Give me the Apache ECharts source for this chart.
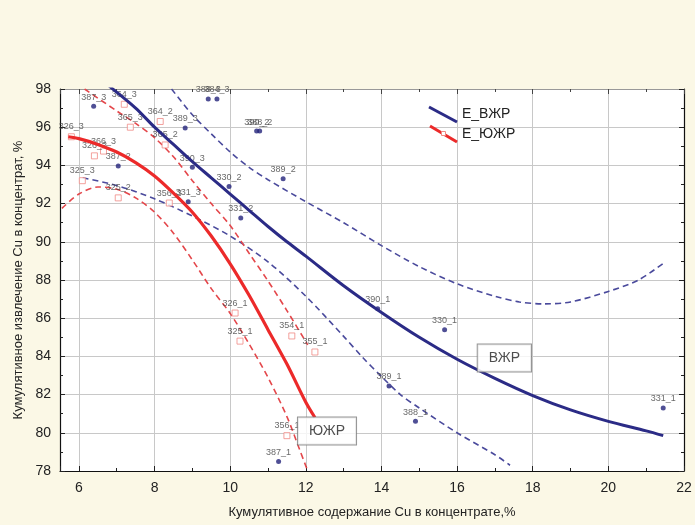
<!DOCTYPE html>
<html><head><meta charset="utf-8">
<script src="https://cdn.jsdelivr.net/npm/echarts@6/dist/echarts.min.js"></script>
<style>html,body{margin:0;padding:0;background:#fbf8e6;}#c{width:695px;height:525px;}</style>
</head><body><div id="c"></div>
<script>
// ---- tick labels ----
const xTickLabels = [6, 8, 10, 12, 14, 16, 18, 20, 22];
const yTickLabels = [78, 80, 82, 84, 86, 88, 90, 92, 94, 96, 98];

// ---- ВЖР sample points (blue dots) ----
const vzhrNames = ['387_3','388_3','384_3','389_3','390_2','388_2','390_3','387_2','330_2','389_2','331_3','331_2','390_1','330_1','389_1','388_1','331_1','387_1'];
const vzhrX =     [6.39,   9.42,   9.65,   8.81,   10.70,  10.78,  9.00,   7.04,   9.97,   11.40,  8.89,   10.28,  13.90,  15.67,  14.20,  14.90,  21.45,  11.28];
const vzhrY =     [97.10,  97.48,  97.48,  95.96,  95.80,  95.80,  93.90,  93.97,  92.90,  93.30,  92.10,  91.25,  86.50,  85.40,  82.45,  80.60,  81.30,  78.50];

// ---- ЮЖР sample points (red squares) ----
const yuzhrNames = ['364_3','364_2','365_3','365_2','326_3','366_3','326_2','325_3','325_2','356_3','326_1','325_1','354_1','355_1','356_1'];
const yuzhrX =     [7.20,   8.15,   7.36,   8.28,   5.80,   6.65,   6.41,   6.09,   7.04,   8.39,   10.13,  10.26,  11.63,  12.24,  11.50];
const yuzhrY =     [97.20,  96.30,  96.00,  95.07,  95.50,  94.75,  94.50,  93.20,  92.30,  92.03,  86.27,  84.80,  85.07,  84.23,  79.85];

// ---- E_ВЖР fitted curve and its band ----
const vzhrFitX = [6.8, 7.5, 8, 8.5, 9, 9.5, 10, 10.5, 11, 11.5, 12, 13, 14, 15, 16, 17, 18, 19, 20, 21, 21.45];
const vzhrFitY = [98.15, 97.0, 96.0, 95.1, 94.2, 93.35, 92.5, 91.65, 90.8, 90.0, 89.25, 87.7, 86.3, 85.0, 83.85, 82.85, 81.95, 81.2, 80.6, 80.1, 79.85];
const vzhrUpX = [8.45, 9, 9.5, 10, 10.5, 11, 12, 13, 14, 15, 16, 17, 17.65, 18.3, 19, 20, 20.8, 21.47];
const vzhrUpY = [98.0, 96.65, 95.65, 94.7, 93.9, 93.25, 92.1, 91.0, 89.8, 88.7, 87.8, 87.15, 86.85, 86.75, 86.85, 87.4, 88.0, 88.9];
const vzhrLoX = [6.1, 7, 8, 9, 10, 11, 12, 13, 13.5, 14, 14.5, 15, 16, 17, 17.4];
const vzhrLoY = [93.35, 92.95, 92.25, 91.35, 90.3, 88.95, 87.15, 85.05, 83.95, 82.95, 82.0, 81.3, 80.0, 78.85, 78.3];

// ---- E_ЮЖР fitted curve and its band ----
const yuzhrFitX = [5.72, 6, 6.5, 7, 7.5, 8, 8.5, 9, 9.5, 10, 10.5, 11, 11.5, 12, 12.24];
const yuzhrFitY = [95.5, 95.4, 95.1, 94.7, 94.15, 93.45, 92.55, 91.55, 90.3, 88.85, 87.2, 85.4, 83.6, 81.6, 80.8];
const yuzhrUpX = [6.15, 7, 7.5, 8, 8.5, 9, 9.5, 10, 10.5, 11, 11.5, 12.05];
const yuzhrUpY = [98.0, 96.85, 96.2, 95.45, 94.45, 93.2, 92.0, 90.85, 89.4, 87.95, 86.4, 84.6];
const yuzhrLoX = [5.55, 6, 6.5, 7, 7.5, 8, 8.5, 9, 9.5, 10, 10.5, 11, 11.5, 11.84, 12.05];
const yuzhrLoY = [91.75, 92.5, 92.87, 92.75, 92.3, 91.55, 90.45, 89.05, 87.55, 86.25, 84.65, 82.9, 80.85, 79.1, 78.0];

// ---- annotation boxes ----
const boxNames = ['ВЖР', 'ЮЖР'];
const boxX = [17.25, 12.56];
const boxY = [83.92, 80.1];

const pts = (xs, ys) => xs.map((x, i) => [x, ys[i]]);
const named = (xs, ys, ns) => xs.map((x, i) => ({ value: [x, ys[i]], name: ns[i] }));

const FONT = 'Liberation Sans';
const BLUE = '#2b2b86', BLUE_D = '#4a4a9c', RED = '#ec2a2a', RED_D = '#e4474b', RED_SQ = '#f08a84';

const chart = echarts.init(document.getElementById('c'));
const dashLine = (data, color) => ({
  type: 'line', data, smooth: 0.3, showSymbol: false, silent: true, z: 2,
  lineStyle: { color, width: 1.6, type: [6, 4] }
});
chart.setOption({
  backgroundColor: '#fbf8e6',
  animation: false,
  textStyle: { fontFamily: FONT },
  grid: { left: 60, right: 11, top: 89, bottom: 54, show: true, backgroundColor: '#ffffff', borderWidth: 0 },
  xAxis: [{
    type: 'value', min: 5.5, max: 22, minInterval: 2, maxInterval: 2, splitNumber: 8,
    name: 'Кумулятивное содержание Cu в концентрате,%', nameLocation: 'middle', nameGap: 35,
    nameTextStyle: { fontSize: 13, color: '#222', fontFamily: FONT },
    axisLine: { show: true, onZero: false, lineStyle: { color: '#111', width: 1.2 } },
    axisTick: { show: true, inside: true, length: 5, lineStyle: { color: '#222' } },
    minorTick: { show: true, splitNumber: 2, length: 3, lineStyle: { color: '#222' } },
    axisLabel: { fontSize: 14, color: '#222', margin: 10, fontFamily: FONT,
      formatter: v => xTickLabels.includes(v) ? String(v) : '' },
    splitLine: { show: true, lineStyle: { color: '#c8c8c8', width: 1 } }
  }, {
    type: 'value', position: 'top', min: 5.5, max: 22, minInterval: 2, maxInterval: 2, splitNumber: 8,
    axisLine: { show: true, onZero: false, lineStyle: { color: '#999', width: 1 } },
    axisTick: { show: true, inside: true, length: 5, lineStyle: { color: '#444' } },
    minorTick: { show: true, splitNumber: 2, length: 3, lineStyle: { color: '#444' } },
    axisLabel: { show: false }, splitLine: { show: false }
  }],
  yAxis: [{
    type: 'value', min: 78, max: 98, interval: 2,
    name: 'Кумулятивное извлечение Cu в концентрат, %', nameLocation: 'middle', nameGap: 33,
    nameTextStyle: { fontSize: 13, color: '#222', fontFamily: FONT },
    axisLine: { show: true, onZero: false, lineStyle: { color: '#111', width: 1.2 } },
    axisTick: { show: true, inside: true, length: 5, lineStyle: { color: '#222' } },
    minorTick: { show: true, splitNumber: 2, length: 3, lineStyle: { color: '#222' } },
    axisLabel: { fontSize: 14, color: '#222', margin: 9, fontFamily: FONT,
      formatter: v => yTickLabels.includes(v) ? String(v) : '' },
    splitLine: { show: true, lineStyle: { color: '#c8c8c8', width: 1 } }
  }, {
    type: 'value', position: 'right', min: 78, max: 98, interval: 2,
    axisLine: { show: true, onZero: false, lineStyle: { color: '#111', width: 1.2 } },
    axisTick: { show: true, inside: true, length: 5, lineStyle: { color: '#222' } },
    minorTick: { show: true, splitNumber: 2, length: 3, lineStyle: { color: '#222' } },
    axisLabel: { show: false }, splitLine: { show: false }
  }],
  series: [
    dashLine(pts(vzhrUpX, vzhrUpY), BLUE_D),
    dashLine(pts(vzhrLoX, vzhrLoY), BLUE_D),
    dashLine(pts(yuzhrUpX, yuzhrUpY), RED_D),
    dashLine(pts(yuzhrLoX, yuzhrLoY), RED_D),
    {
      type: 'scatter', name: 'ЮЖР точки', data: named(yuzhrX, yuzhrY, yuzhrNames), z: 3,
      symbol: 'rect', symbolSize: 6,
      itemStyle: { color: '#ffffff', borderColor: RED_SQ, borderWidth: 1 },
      label: { show: true, position: 'top', distance: 2, formatter: '{b}', fontSize: 9, color: '#444', fontFamily: FONT }
    },
    {
      type: 'scatter', name: 'ВЖР точки', data: named(vzhrX, vzhrY, vzhrNames), z: 3,
      symbol: 'circle', symbolSize: 5,
      itemStyle: { color: '#23237a' },
      label: { show: true, position: 'top', distance: 2, formatter: '{b}', fontSize: 9, color: '#444', fontFamily: FONT }
    },
    {
      type: 'line', name: 'E_ВЖР', data: pts(vzhrFitX, vzhrFitY), smooth: 0.3, showSymbol: false, z: 4,
      lineStyle: { color: BLUE, width: 3 }
    },
    {
      type: 'line', name: 'E_ЮЖР', data: pts(yuzhrFitX, yuzhrFitY), smooth: 0.3, showSymbol: false, z: 4,
      lineStyle: { color: RED, width: 3.2 }
    },
    {
      type: 'scatter', name: 'boxes', data: named(boxX, boxY, boxNames), z: 6,
      symbolSize: 2, itemStyle: { color: 'rgba(0,0,0,0)' }, silent: true,
      label: { show: true, position: 'inside', formatter: '{b}', fontSize: 14, color: '#222', fontFamily: FONT,
        backgroundColor: '#ffffff', borderColor: '#7a7a7a', borderWidth: 1, padding: [7, 11, 6, 11] }
    }
  ],
  graphic: [
    { type: 'line', shape: { x1: 429, y1: 107, x2: 457, y2: 122 }, style: { stroke: BLUE, lineWidth: 3 }, z: 10 },
    { type: 'line', shape: { x1: 430, y1: 126, x2: 457, y2: 142 }, style: { stroke: RED, lineWidth: 3 }, z: 10 },
    { type: 'rect', shape: { x: 441.5, y: 131.5, width: 4, height: 4 }, style: { fill: '#fff', stroke: RED_SQ, lineWidth: 1 }, z: 11 },
    { type: 'text', left: 462, top: 107, style: { text: 'E_ВЖР', fontSize: 14, fontFamily: FONT, fill: '#222' }, z: 10 },
    { type: 'text', left: 462, top: 127, style: { text: 'E_ЮЖР', fontSize: 14, fontFamily: FONT, fill: '#222' }, z: 10 }
  ]
});
</script></body></html>
